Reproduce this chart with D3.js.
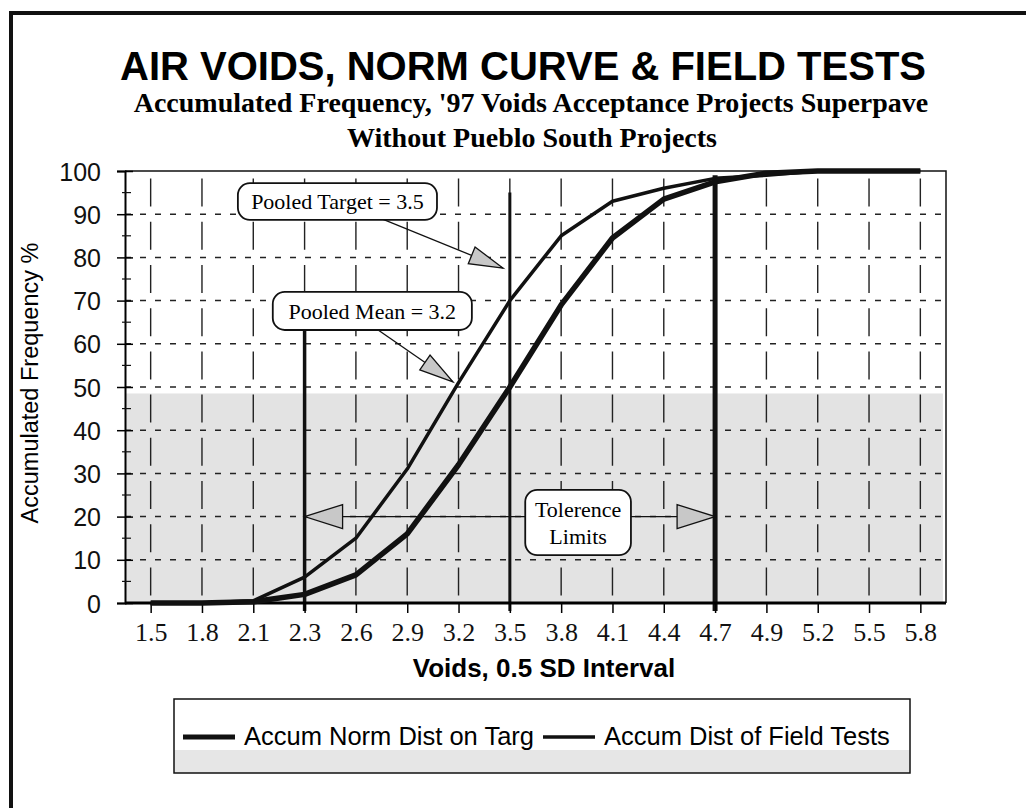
<!DOCTYPE html>
<html>
<head>
<meta charset="utf-8">
<script src="https://cdn.jsdelivr.net/npm/d3@7"></script>
<style>
  body { margin: 0; background: #fff; }
  svg { display: block; }
</style>
</head>
<body>
<script>
// Chart data
const voids = ['1.5', '1.8', '2.1', '2.3', '2.6', '2.9', '3.2', '3.5', '3.8', '4.1', '4.4', '4.7', '4.9', '5.2', '5.5', '5.8'];
const normDist = [0, 0, 0.3, 2, 6.5, 16, 32, 50, 69, 84.5, 93.5, 97.5, 99.5, 100, 100, 100];
const fieldTests = [0, 0, 0.5, 6, 15, 31, 51, 70, 85, 93, 96, 98.3, 99, 100, 100, 100];
const yTicks = [0, 10, 20, 30, 40, 50, 60, 70, 80, 90, 100];
const yMinor = [5, 15, 25, 35, 45, 55, 65, 75, 85, 95];
const shadeTop = 48.5;

// heavy vertical marker lines: category and value where they stop
const markerCats = ['2.3', '3.5', '4.7'];
const markerTops = [63, 95, 99];
const markerWidths = [3.5, 3, 5];

// callouts: box corners in (category index, %) and arrow from -> to
const callouts = [
    { lines: ['Pooled Target = 3.5'], box: [1.70, 97.2, 5.58, 88.7],
      arrows: [[4.28, 90.0, 6.87, 77.5]] },
    { lines: ['Pooled Mean = 3.2'], box: [2.38, 72.0, 6.26, 63.2],
      arrows: [[4.37, 63.7, 5.89, 51.2]] },
    { lines: ['Tolerence', 'Limits'], box: [7.30, 26.2, 9.36, 11.1],
      arrows: [[7.30, 20, 3, 20], [9.36, 20, 11, 20]] }
];

const legendItems = ['Accum Norm Dist on Targ', 'Accum Dist of Field Tests'];

const W = 1026, H = 808;
const plot = { left: 125, right: 946, top: 171, bottom: 603 };
const sans = 'Arial, "Liberation Sans", Helvetica, sans-serif';
const serif = '"Times New Roman", "Liberation Serif", Times, serif';

const svg = d3.select('body').append('svg')
    .attr('width', W)
    .attr('height', H);

// page frame (top and left edges only, like the scan)
svg.append('line').attr('x1', 9).attr('x2', W).attr('y1', 13).attr('y2', 13)
    .attr('stroke', '#111').attr('stroke-width', 4);
svg.append('line').attr('x1', 11).attr('x2', 11).attr('y1', 11).attr('y2', H)
    .attr('stroke', '#111').attr('stroke-width', 4);

// titles
svg.append('text').attr('x', 523).attr('y', 80)
    .attr('text-anchor', 'middle')
    .style('font', `bold 40px ${sans}`)
    .text('AIR VOIDS, NORM CURVE & FIELD TESTS');
svg.append('text').attr('x', 531).attr('y', 112)
    .attr('text-anchor', 'middle')
    .style('font', `bold 28px ${serif}`)
    .text("Accumulated Frequency, '97 Voids Acceptance Projects Superpave");
svg.append('text').attr('x', 532).attr('y', 147)
    .attr('text-anchor', 'middle')
    .style('font', `bold 28px ${serif}`)
    .text('Without Pueblo South Projects');

// scales
const x = d3.scalePoint()
    .domain(voids)
    .range([plot.left, plot.right])
    .padding(0.5);
const xi = d3.scaleLinear()
    .domain([-0.5, voids.length - 0.5])
    .range([plot.left, plot.right]);
const y = d3.scaleLinear()
    .domain([0, 100])
    .range([plot.bottom, plot.top]);

const g = svg.append('g');

// gray shaded lower band
g.append('rect')
    .attr('x', plot.left)
    .attr('y', y(shadeTop))
    .attr('width', xi(15.44) - plot.left)
    .attr('height', y(0) - y(shadeTop))
    .attr('fill', '#e3e3e3');

// gridlines
g.selectAll('.hgrid')
    .data(yTicks.filter(d => d > 0 && d < 100))
    .enter().append('line')
    .attr('x1', plot.left).attr('x2', plot.right)
    .attr('y1', d => y(d)).attr('y2', d => y(d))
    .attr('stroke', '#222').attr('stroke-width', 1.5)
    .attr('stroke-dasharray', '6,9');

g.selectAll('.vgrid')
    .data(voids)
    .enter().append('line')
    .attr('x1', d => x(d)).attr('x2', d => x(d))
    .attr('y1', y(0)).attr('y2', y(100))
    .attr('stroke', '#222').attr('stroke-width', 1.4)
    .attr('stroke-dasharray', '28,15.2')
    .attr('stroke-dashoffset', 35.6);

// plot frame (top and right)
g.append('path')
    .attr('d', `M${plot.left},${plot.top}H${plot.right}V${plot.bottom}`)
    .attr('fill', 'none').attr('stroke', '#111').attr('stroke-width', 1.5);

// heavy vertical marker lines
g.selectAll('.marker')
    .data(markerCats)
    .enter().append('line')
    .attr('x1', d => x(d)).attr('x2', d => x(d))
    .attr('y1', y(0) + 8)
    .attr('y2', (d, i) => y(markerTops[i]))
    .attr('stroke', '#111')
    .attr('stroke-width', (d, i) => markerWidths[i]);

// axes
const yAxis = g.append('g')
    .attr('transform', `translate(${plot.left},0)`)
    .call(d3.axisLeft(y).tickValues(yTicks).tickSize(8).tickPadding(16))
    .call(a => a.select('.domain').attr('stroke-width', 2));
yAxis.selectAll('.tick line').attr('x2', 8).attr('x1', -8).attr('stroke-width', 1.5);
yAxis.selectAll('text')
    .style('font', `25px ${sans}`)
    .attr('fill', '#111')
    .attr('dy', '0.36em');
g.selectAll('.yminor')
    .data(yMinor)
    .enter().append('line')
    .attr('x1', plot.left - 3).attr('x2', plot.left + 6)
    .attr('y1', d => y(d)).attr('y2', d => y(d))
    .attr('stroke', '#111').attr('stroke-width', 1.2);

const xAxis = g.append('g')
    .attr('transform', `translate(0,${plot.bottom})`)
    .call(d3.axisBottom(x).tickSize(10).tickPadding(10).tickSizeOuter(0))
    .call(a => a.select('.domain')
        .attr('d', `M${plot.left},0H${plot.right}`)
        .attr('stroke-width', 3));
xAxis.selectAll('.tick line').attr('stroke-width', 1.5);
xAxis.selectAll('text')
    .style('font', `26px ${serif}`)
    .attr('fill', '#111');

// axis titles
svg.append('text')
    .attr('transform', `translate(38,${(plot.top + plot.bottom) / 2 - 4}) rotate(-90)`)
    .attr('text-anchor', 'middle')
    .style('font', `23.5px ${sans}`)
    .text('Accumulated Frequency %');
svg.append('text')
    .attr('x', 544).attr('y', 677)
    .attr('text-anchor', 'middle')
    .style('font', `bold 26px ${sans}`)
    .text('Voids, 0.5 SD Interval');

// curves
const line = d3.line()
    .x((d, i) => x(voids[i]))
    .y(d => y(d));

g.append('path')
    .datum(fieldTests)
    .attr('d', line)
    .attr('fill', 'none').attr('stroke', '#111')
    .attr('stroke-width', 3.5).attr('stroke-linejoin', 'round');
g.append('path')
    .datum(normDist)
    .attr('d', line)
    .attr('fill', 'none').attr('stroke', '#111')
    .attr('stroke-width', 5.5).attr('stroke-linejoin', 'round');

// callouts
function arrowHead(x1, y1, x2, y2, len, hw) {
    const dx = x2 - x1, dy = y2 - y1;
    const L = Math.hypot(dx, dy);
    const ux = dx / L, uy = dy / L;
    const bx = x2 - ux * len, by = y2 - uy * len;
    return [[x2, y2], [bx - uy * hw, by + ux * hw], [bx + uy * hw, by - ux * hw]];
}

callouts.forEach(c => {
    const cg = g.append('g');
    c.arrows.forEach(a => {
        const x1 = xi(a[0]), y1 = y(a[1]), x2 = xi(a[2]), y2 = y(a[3]);
        const horiz = Math.abs(y2 - y1) < 1;
        const len = horiz ? 38 : 34;
        const hw = horiz ? 12 : 9;
        cg.append('line')
            .attr('x1', x1).attr('y1', y1).attr('x2', x2).attr('y2', y2)
            .attr('stroke', '#111').attr('stroke-width', 1.3);
        cg.append('polygon')
            .attr('points', arrowHead(x1, y1, x2, y2, len, hw).map(p => p.join(',')).join(' '))
            .attr('fill', '#c8c8c8').attr('stroke', '#111').attr('stroke-width', 1.3);
    });
    const bx0 = xi(c.box[0]), by0 = y(c.box[1]);
    const bx1 = xi(c.box[2]), by1 = y(c.box[3]);
    cg.append('rect')
        .attr('x', bx0).attr('y', by0)
        .attr('width', bx1 - bx0).attr('height', by1 - by0)
        .attr('rx', 12).attr('ry', 12)
        .attr('fill', '#fff').attr('stroke', '#111').attr('stroke-width', 1.8);
    const lh = 27;
    const cy = (by0 + by1) / 2 - (c.lines.length - 1) * lh / 2;
    c.lines.forEach((t, k) => {
        cg.append('text')
            .attr('x', (bx0 + bx1) / 2)
            .attr('y', cy + k * lh)
            .attr('dy', '0.35em')
            .attr('text-anchor', 'middle')
            .style('font', `22px ${serif}`)
            .text(t);
    });
});

// legend
const lg = svg.append('g');
lg.append('rect')
    .attr('x', 174).attr('y', 750).attr('width', 736).attr('height', 23)
    .attr('fill', '#e6e6e6');
lg.append('rect')
    .attr('x', 174).attr('y', 699).attr('width', 736).attr('height', 74)
    .attr('fill', 'none').attr('stroke', '#111').attr('stroke-width', 1.5);

const legendX = [183, 543];
const legendW = [5, 3.5];
legendItems.forEach((t, i) => {
    lg.append('line')
        .attr('x1', legendX[i]).attr('x2', legendX[i] + 52)
        .attr('y1', 737).attr('y2', 737)
        .attr('stroke', '#111').attr('stroke-width', legendW[i]);
    lg.append('text')
        .attr('x', legendX[i] + 61).attr('y', 745)
        .style('font', `25.5px ${sans}`)
        .text(t);
});
</script>
</body>
</html>
